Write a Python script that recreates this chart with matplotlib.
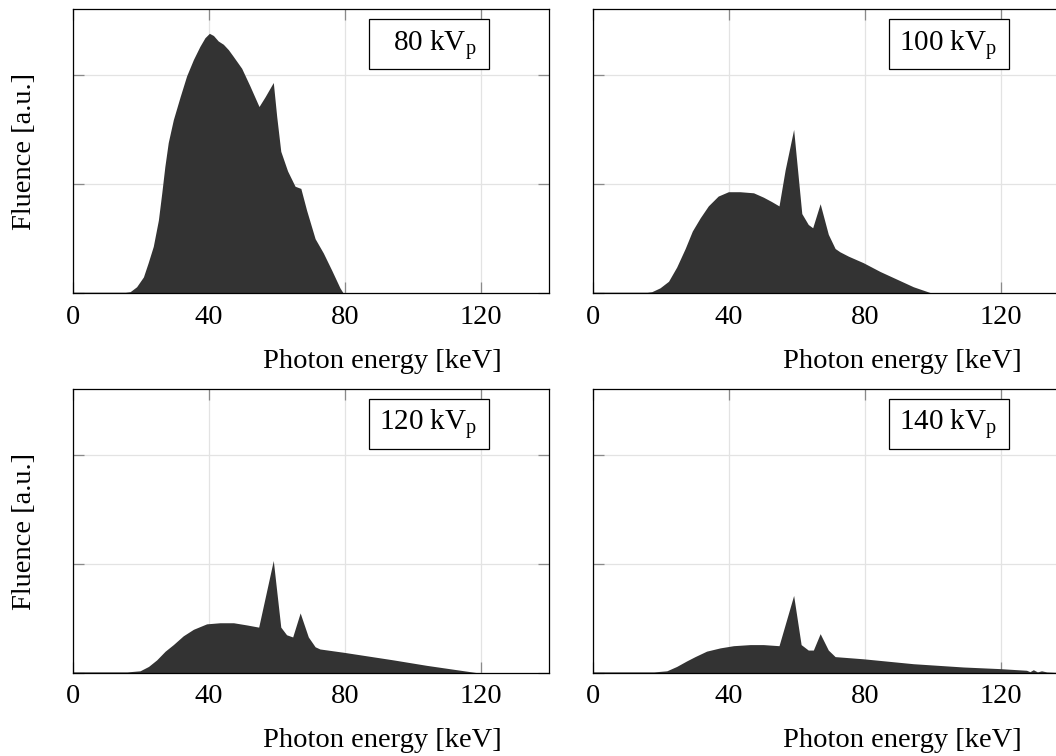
import matplotlib
matplotlib.use('Agg')
import matplotlib.pyplot as plt
from matplotlib.patches import Rectangle

plt.rcParams['font.family'] = ['Liberation Serif', 'DejaVu Serif']
plt.rcParams['mathtext.fontset'] = 'custom'
plt.rcParams['mathtext.rm'] = 'Liberation Serif'
plt.rcParams['mathtext.it'] = 'Liberation Serif:italic'

# Spectra (energy in keV, fluence in arbitrary units)
energy_80 = [0, 15.5, 16.9, 18.8, 20.8, 22.2, 23.7, 25.2, 26.2, 27.1, 28.1, 29.6, 31.6, 33.5,
             35.5, 37.4, 38.9, 40.2, 41.4, 42.8, 44.3, 45.8, 47.2, 49.7, 52.1, 54.8, 56.6,
             59.0, 60.0, 61.2, 63.2, 65.4, 67.1, 68.8, 71.3, 73.7, 76.2, 78.6, 79.6, 80]
fluence_80 = [0.01, 0.01, 0.015, 0.06, 0.15, 0.28, 0.43, 0.67, 0.92, 1.16, 1.38, 1.59, 1.80, 1.99,
              2.14, 2.26, 2.34, 2.38, 2.36, 2.31, 2.28, 2.23, 2.17, 2.06, 1.90, 1.71, 1.80,
              1.93, 1.62, 1.30, 1.12, 0.98, 0.96, 0.76, 0.50, 0.37, 0.21, 0.05, 0.0, 0.0]

energy_100 = [0, 16, 17.4, 19.8, 22.3, 24.7, 27.2, 29.3, 31.6, 34.0, 36.9, 39.9, 43.3, 47.3,
              50.2, 52.6, 54.8, 56.6, 59.1, 61.5, 63.4, 64.7, 66.9, 69.3, 71.3, 72.7, 75.2,
              79.6, 84.5, 89.4, 94.3, 99.9, 100]
fluence_100 = [0.01, 0.01, 0.015, 0.05, 0.11, 0.24, 0.41, 0.57, 0.69, 0.80, 0.89, 0.93, 0.93, 0.92,
               0.88, 0.84, 0.80, 1.13, 1.50, 0.73, 0.63, 0.60, 0.82, 0.54, 0.41, 0.38, 0.34,
               0.28, 0.20, 0.13, 0.06, 0.0, 0.0]

energy_120 = [0, 16, 19.8, 22.3, 24.7, 27.2, 29.6, 32.5, 35.5, 39.4, 43.3, 47.3, 51.2, 54.7,
              59.0, 61.2, 62.9, 64.7, 66.9, 69.3, 71.3, 72.7, 79.6, 94.3, 104.1, 119.6, 120]
fluence_120 = [0.01, 0.01, 0.02, 0.06, 0.12, 0.20, 0.26, 0.34, 0.40, 0.45, 0.46, 0.46, 0.44, 0.42,
               1.03, 0.42, 0.35, 0.33, 0.55, 0.33, 0.24, 0.22, 0.19, 0.12, 0.07, 0.0, 0.0]

energy_140 = [0, 18, 21.8, 24.7, 27.6, 30.1, 33.5, 37.5, 41.4, 46.3, 50.2, 54.8, 59.1, 61.3,
              63.4, 64.9, 66.9, 69.3, 71.3, 79.6, 94.3, 109.0, 119.8, 127.6, 128.6, 129.6,
              130.8, 132.0, 133.5, 137.0, 140]
fluence_140 = [0.01, 0.01, 0.02, 0.06, 0.11, 0.15, 0.20, 0.23, 0.25, 0.26, 0.26, 0.25, 0.71, 0.26,
               0.21, 0.21, 0.36, 0.21, 0.15, 0.13, 0.085, 0.055, 0.04, 0.025, 0.012, 0.03,
               0.01, 0.02, 0.01, 0.005, 0.0]

spectra = [(energy_80, fluence_80), (energy_100, fluence_100),
           (energy_120, fluence_120), (energy_140, fluence_140)]
kvp_labels = ['80', '100', '120', '140']
xticks = [0, 40, 80, 120]
yticks = [0, 1, 2]

fig = plt.figure(figsize=(10.56, 7.56), dpi=100)

# panel rectangles in pixels (right column runs past the edge like the original)
W, H = 1056, 756
lefts = [72.7, 592.7]
tops = [9.3, 389.0]
aw, ah = 476, 284

for i, (en, fl) in enumerate(spectra):
    row, col = divmod(i, 2)
    ax = fig.add_axes([lefts[col] / W, (H - tops[row] - ah) / H, aw / W, ah / H])
    ax.fill_between(en, fl, 0, color='#333333', linewidth=0, zorder=2)
    ax.set_xlim(0, 140)
    ax.set_ylim(0, 2.6)
    ax.set_xticks(xticks)
    ax.set_yticks(yticks)
    ax.set_axisbelow(True)
    ax.grid(color='#e3e3e3', linewidth=0.9)
    ax.tick_params(direction='in', length=7.7, width=0.9, color='#8a8a8a',
                   top=True, right=True, labelleft=False, labelsize=20.5, pad=8.2)
    for s in ax.spines.values():
        s.set_linewidth(0.9)
        s.set_color('black')
        s.set_zorder(3)

    ax.set_xlabel('Photon energy [keV]', fontsize=20.5, va='baseline')
    ax.xaxis.set_label_coords(0.65, -0.262)
    if col == 0:
        ax.set_ylabel('Fluence [a.u.]', fontsize=20.5)
        ax.yaxis.set_label_coords(-0.075, 0.5)

    # label box
    ax.add_patch(Rectangle((0.622, 0.789), 0.253, 0.177, transform=ax.transAxes,
                           facecolor='white', edgecolor='black', linewidth=0.9, zorder=4))
    ax.text(0.849, 0.855, kvp_labels[i] + r' kV$_\mathrm{p}$', transform=ax.transAxes,
            ha='right', va='baseline', fontsize=21, zorder=5)

fig.savefig('out.png', dpi=100)
